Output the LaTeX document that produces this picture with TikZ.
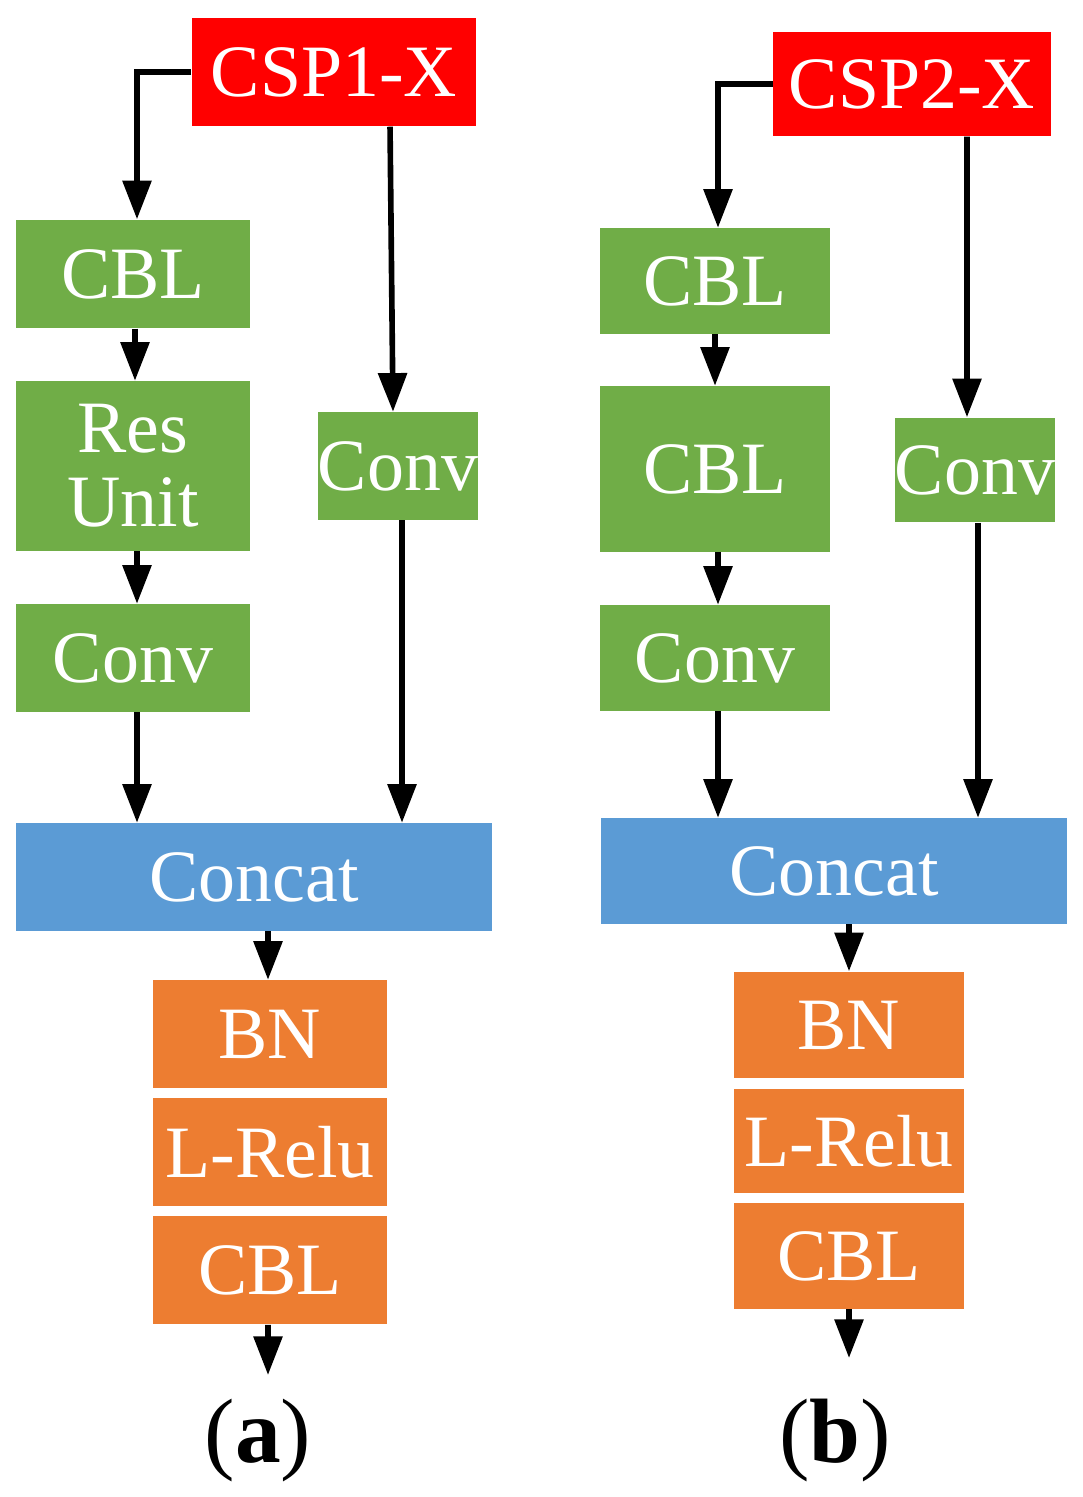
\documentclass[tikz,border=0pt]{standalone}
\usepackage{fontspec}
\setmainfont{Liberation Serif}
\usetikzlibrary{arrows.meta,positioning,calc}
\definecolor{cspred}{RGB}{255,0,0}
\definecolor{blkgreen}{RGB}{112,173,71}
\definecolor{catblue}{RGB}{91,155,213}
\definecolor{bnorange}{RGB}{237,125,49}
\tikzset{
  blk/.style={rectangle, inner sep=0pt, text=white, align=center,
    font=\fontsize{21}{25}\selectfont},
  csp/.style={blk, fill=cspred},
  grn/.style={blk, fill=blkgreen},
  cat/.style={blk, fill=catblue},
  org/.style={blk, fill=bnorange},
  connect/.style={-{Triangle[length=11pt,width=8pt]}, line width=1.6pt}
}
\begin{document}
\begin{tikzpicture}[x=0.01cm,y=-0.01cm]
    \useasboundingbox (0,0) rectangle (1083,1497);
    % (a)
    \node[csp, minimum width=2.84cm, minimum height=1.08cm] (CspA) at (334,72) {CSP1-X};
    \node[grn, minimum width=2.34cm, minimum height=1.08cm] (CblA) at (133,274) {CBL};
    \node[grn, minimum width=2.34cm, minimum height=1.69cm] (ResA) at (133,466) {Res\\[-4pt]Unit};
    \node[grn, minimum width=2.34cm, minimum height=1.07cm] (ConvA) at (133,658) {Conv};
    \node[grn, minimum width=1.55cm, minimum height=1.07cm] (ConvRA) at (398,466) {Conv};
    \node[cat, minimum width=4.76cm, minimum height=1.07cm] (CatA) at (254,877) {Concat};
    \node[org, minimum width=2.34cm, minimum height=1.07cm] (BnA) at (270,1034) {BN};
    \node[org, minimum width=2.34cm, minimum height=1.08cm] (ReluA) at (270,1152) {L-Relu};
    \node[org, minimum width=2.34cm, minimum height=1.08cm] (OutA) at (270,1270) {CBL};
    \coordinate (EndA) at (268,1375);
    \node[font=\fontsize{26}{30}\selectfont] (LabA) at (258,1440) {(\textbf{a})};
    \draw[connect] (CspA.west) -| ([xshift=0.04cm]CblA.north);
    \draw[connect] ([xshift=0.56cm]CspA.south) -- ([xshift=-0.05cm]ConvRA.north);
    \draw[connect] ([xshift=0.02cm]CblA.south) -- ([xshift=0.02cm]ResA.north);
    \draw[connect] ([xshift=0.04cm]ResA.south) -- ([xshift=0.04cm]ConvA.north);
    \draw[connect] ([xshift=0.04cm]ConvA.south) -- ([xshift=0.04cm]ConvA.south |- CatA.north);
    \draw[connect] ([xshift=0.04cm]ConvRA.south) -- ([xshift=0.04cm]ConvRA.south |- CatA.north);
    \draw[connect] ([xshift=-0.02cm]BnA.north |- CatA.south) -- ([xshift=-0.02cm]BnA.north);
    \draw[connect] ([xshift=-0.02cm]OutA.south) -- (EndA);
    % (b)
    \node[csp, minimum width=2.77cm, minimum height=1.04cm] (CspB) at (912,84) {CSP2-X};
    \node[grn, minimum width=2.29cm, minimum height=1.05cm] (CblB) at (715,281) {CBL};
    \node[grn, minimum width=2.29cm, minimum height=1.65cm] (Cbl2B) at (715,469) {CBL};
    \node[grn, minimum width=2.29cm, minimum height=1.05cm] (ConvB) at (715,658) {Conv};
    \node[grn, minimum width=1.52cm, minimum height=1.04cm] (ConvRB) at (975,470) {Conv};
    \node[cat, minimum width=4.66cm, minimum height=1.05cm] (CatB) at (834,871) {Concat};
    \node[org, minimum width=2.29cm, minimum height=1.06cm] (BnB) at (849,1025) {BN};
    \node[org, minimum width=2.29cm, minimum height=1.04cm] (ReluB) at (849,1141) {L-Relu};
    \node[org, minimum width=2.29cm, minimum height=1.05cm] (OutB) at (849,1256) {CBL};
    \coordinate (EndB) at (849,1358);
    \node[font=\fontsize{26}{30}\selectfont] (LabB) at (835,1440) {(\textbf{b})};
    \draw[connect] (CspB.west) -| ([xshift=0.03cm]CblB.north);
    \draw[connect] ([xshift=0.55cm]CspB.south) -- ([xshift=-0.08cm]ConvRB.north);
    \draw[connect] (CblB.south) -- (Cbl2B.north);
    \draw[connect] ([xshift=0.03cm]Cbl2B.south) -- ([xshift=0.03cm]ConvB.north);
    \draw[connect] ([xshift=0.03cm]ConvB.south) -- ([xshift=0.03cm]ConvB.south |- CatB.north);
    \draw[connect] ([xshift=0.03cm]ConvRB.south) -- ([xshift=0.03cm]ConvRB.south |- CatB.north);
    \draw[connect] (BnB.north |- CatB.south) -- (BnB.north);
    \draw[connect] (OutB.south) -- (EndB);
\end{tikzpicture}
\end{document}
